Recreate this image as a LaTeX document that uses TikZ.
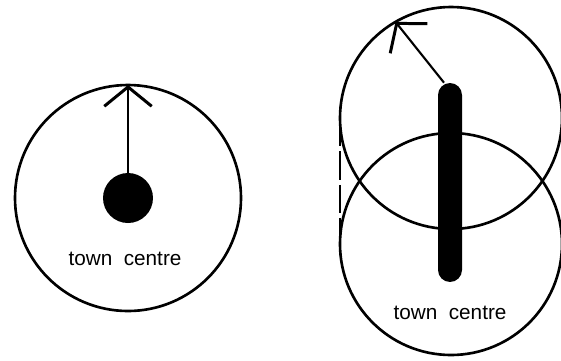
\documentclass[tikz,border=0pt]{standalone}
\usepackage{fontspec}
\setmainfont{Liberation Sans}
\usetikzlibrary{calc, positioning}
\usetikzlibrary{arrows.meta}

\tikzset{
  zone/.style={line width=1.5pt},
  reach/.style={line width=1.2pt, -{Straight Barb[length=11pt, width=27pt, line width=1.7pt]}},
  place/.style={font=\fontsize{11.8}{14}\selectfont},
}

\begin{document}
\begin{tikzpicture}[x=0.02cm, y=-0.02cm]
\def\RA{113}
\def\RB{111}
\useasboundingbox (0,0) rectangle (561,360);

\coordinate (Ac) at (128,198);
\coordinate (Bu) at (451,118);
\coordinate (Bl) at (451,244);
\coordinate (Atop) at ($(Ac)+(0,-\RA)$);
\coordinate (Btip) at ($(Bu)+(-120:\RB)$);

% compact town
\draw[zone] (Ac) circle (\RA);
\node[circle, fill=black, minimum size=1cm, inner sep=0] (hub) at (Ac) {};
\draw[reach] (hub) -- (Atop);
\node[place] (nameA) at (125,259) {town~~centre};

% linear town
\draw[zone] (Bu) circle (\RB);
\draw[zone] (Bl) circle (\RB);
\draw[line width=1.4pt, dash pattern=on 16pt off 3pt] ($(Bu)+(-\RB,0)$) -- ($(Bl)+(-\RB,0)$);
\node[fill=black, rounded corners=0.24cm, minimum width=0.48cm, minimum height=3.98cm, inner sep=0] (spine) at (450,182.5) {};
\draw[reach] ($(spine.north)+(-6,0)$) -- (Btip);
\node[place] (nameB) at (450,313) {town~~centre};
\end{tikzpicture}
\end{document}
